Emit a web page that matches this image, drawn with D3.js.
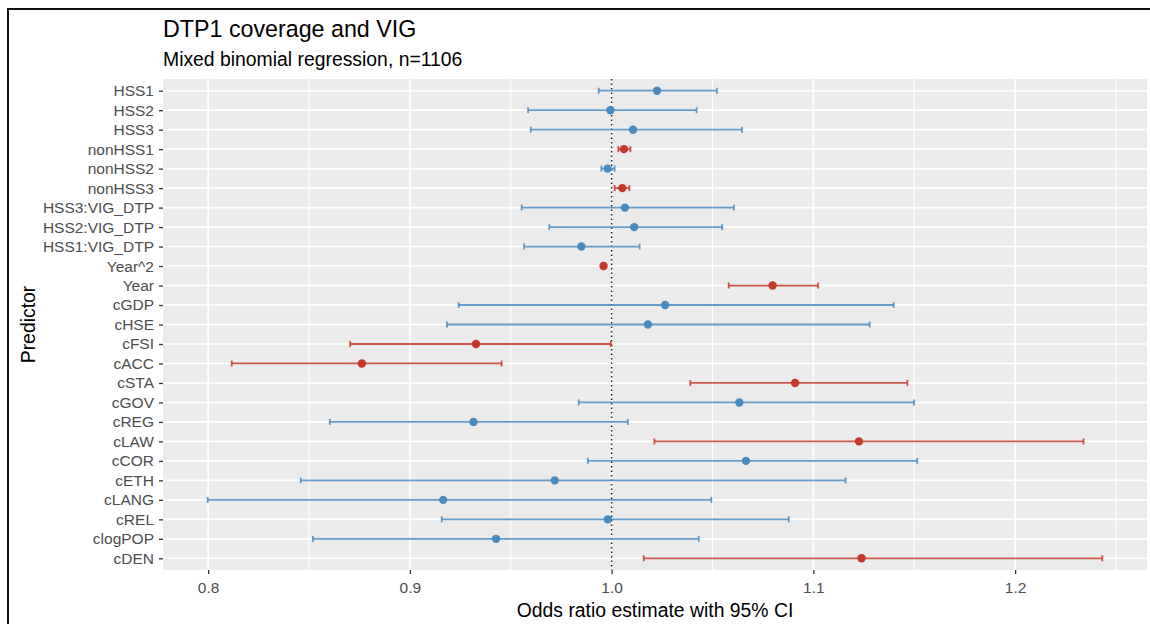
<!DOCTYPE html>
<html>
<head>
<meta charset="utf-8">
<script src="https://cdn.jsdelivr.net/npm/d3@7"></script>
<style>
  html, body { margin: 0; padding: 0; background: #ffffff; }
  svg { display: block; font-family: "Liberation Sans", Arial, sans-serif; }
</style>
</head>
<body>
<svg id="chart" width="1150" height="624"></svg>
<script>
// Predictors, top to bottom
const predictors = [
  "HSS1", "HSS2", "HSS3", "nonHSS1", "nonHSS2", "nonHSS3",
  "HSS3:VIG_DTP", "HSS2:VIG_DTP", "HSS1:VIG_DTP", "Year^2", "Year",
  "cGDP", "cHSE", "cFSI", "cACC", "cSTA", "cGOV", "cREG", "cLAW",
  "cCOR", "cETH", "cLANG", "cREL", "clogPOP", "cDEN"
];

// Odds ratio estimates
const estimate = [
  1.0225, 0.9994, 1.0106, 1.0061, 0.9980, 1.0053,
  1.0066, 1.0112, 0.9850, 0.9960, 1.0798,
  1.0265, 1.0180, 0.9328, 0.8762, 1.0909, 1.0633, 0.9315, 1.1226,
  1.0666, 0.9718, 0.9165, 0.9981, 0.9427, 1.1239
];

// Lower 95% confidence limits
const ciLow = [
  0.9936, 0.9586, 0.9599, 1.0033, 0.9949, 1.0015,
  0.9554, 0.9691, 0.9566, 0.9957, 1.0580,
  0.9242, 0.9184, 0.8704, 0.8117, 1.0390, 0.9837, 0.8603, 1.0212,
  0.9882, 0.8459, 0.7998, 0.9158, 0.8519, 1.0159
];

// Upper 95% confidence limits
const ciHigh = [
  1.0522, 1.0421, 1.0646, 1.0093, 1.0015, 1.0088,
  1.0606, 1.0548, 1.0139, 0.9963, 1.1023,
  1.1398, 1.1279, 0.9996, 0.9455, 1.1466, 1.1499, 1.0080, 1.2339,
  1.1515, 1.1160, 1.0494, 1.0878, 1.0432, 1.2432
];

// Significant at the 5% level (drawn in red)
const significant = [
  false, false, false, true, false, true,
  false, false, false, true, true,
  false, false, true, true, true, false, false, true,
  false, false, false, false, false, true
];

const xTickValues = [0.8, 0.9, 1.0, 1.1, 1.2];
const xTickLabels = ["0.8", "0.9", "1.0", "1.1", "1.2"];
const xMinorValues = [0.85, 0.95, 1.05, 1.15, 1.25];

const titleText = "DTP1 coverage and VIG";
const subtitleText = "Mixed binomial regression, n=1106";
const xTitle = "Odds ratio estimate with 95% CI";
const yTitle = "Predictor";

const rows = predictors.map((p, i) => ({
  name: p, est: estimate[i], lo: ciLow[i], hi: ciHigh[i], sig: significant[i]
}));

const colBlue = "#4a8bbf";
const colRed = "#c4392b";

const panel = { left: 163, right: 1147, top: 79, bottom: 570 };
const baseFont = 15.5;

const svg = d3.select("#chart");

// Outer frame
svg.append("path")
  .attr("d", "M8,624 V9 H1150")
  .attr("fill", "none")
  .attr("stroke", "#111")
  .attr("stroke-width", 2);

// x scale with 5% expansion on each side
const dMin = d3.min(ciLow), dMax = d3.max(ciHigh);
const pad = (dMax - dMin) * 0.05;
const x = d3.scaleLinear()
  .domain([dMin - pad, dMax + pad])
  .range([panel.left, panel.right]);

const y = d3.scalePoint()
  .domain(predictors)
  .range([panel.top, panel.bottom])
  .padding(0.6);

// Panel background
svg.append("rect")
  .attr("x", panel.left).attr("y", panel.top)
  .attr("width", panel.right - panel.left)
  .attr("height", panel.bottom - panel.top)
  .attr("fill", "#ebebeb");

// Grid lines
const grid = svg.append("g");
grid.selectAll("line.minor")
  .data(xMinorValues.filter(v => x(v) > panel.left && x(v) < panel.right))
  .join("line")
  .attr("class", "minor")
  .attr("x1", d => x(d)).attr("x2", d => x(d))
  .attr("y1", panel.top).attr("y2", panel.bottom)
  .attr("stroke", "#ffffff").attr("stroke-width", 1.1);
grid.selectAll("line.majorx")
  .data(xTickValues)
  .join("line")
  .attr("class", "majorx")
  .attr("x1", d => x(d)).attr("x2", d => x(d))
  .attr("y1", panel.top).attr("y2", panel.bottom)
  .attr("stroke", "#ffffff").attr("stroke-width", 1.6);
grid.selectAll("line.majory")
  .data(predictors)
  .join("line")
  .attr("class", "majory")
  .attr("x1", panel.left).attr("x2", panel.right)
  .attr("y1", d => y(d)).attr("y2", d => y(d))
  .attr("stroke", "#ffffff").attr("stroke-width", 1.6);

// Reference line at odds ratio 1
svg.append("line")
  .attr("x1", x(1)).attr("x2", x(1))
  .attr("y1", panel.top).attr("y2", panel.bottom)
  .attr("stroke", "#222")
  .attr("stroke-width", 1.5)
  .attr("stroke-dasharray", "1.5 3");

// Error bars
const capH = 3;
const bars = svg.append("g")
  .selectAll("g")
  .data(rows)
  .join("g")
  .attr("stroke", d => d.sig ? colRed : colBlue)
  .attr("stroke-opacity", 0.85)
  .attr("stroke-width", 1.8);
bars.append("line")
  .attr("x1", d => x(d.lo)).attr("x2", d => x(d.hi))
  .attr("y1", d => y(d.name)).attr("y2", d => y(d.name));
bars.append("line")
  .attr("x1", d => x(d.lo)).attr("x2", d => x(d.lo))
  .attr("y1", d => y(d.name) - capH).attr("y2", d => y(d.name) + capH);
bars.append("line")
  .attr("x1", d => x(d.hi)).attr("x2", d => x(d.hi))
  .attr("y1", d => y(d.name) - capH).attr("y2", d => y(d.name) + capH);

// Point estimates
svg.append("g")
  .selectAll("circle")
  .data(rows)
  .join("circle")
  .attr("cx", d => x(d.est))
  .attr("cy", d => y(d.name))
  .attr("r", 4.2)
  .attr("fill", d => d.sig ? colRed : colBlue);

// Axes
const xAxis = d3.axisBottom(x)
  .tickValues(xTickValues)
  .tickFormat((d, i) => xTickLabels[i])
  .tickSize(4)
  .tickPadding(8);
const gx = svg.append("g")
  .attr("transform", `translate(0,${panel.bottom})`)
  .call(xAxis);
gx.select(".domain").remove();
gx.selectAll(".tick line").attr("stroke", "#333").attr("stroke-width", 1.3);
gx.selectAll(".tick text")
  .attr("fill", "#4d4d4d")
  .attr("font-size", baseFont)
  .attr("font-family", "Liberation Sans, Arial, sans-serif");

const yAxis = d3.axisLeft(y)
  .tickSize(4)
  .tickPadding(5);
const gy = svg.append("g")
  .attr("transform", `translate(${panel.left},0)`)
  .call(yAxis);
gy.select(".domain").remove();
gy.selectAll(".tick line").attr("stroke", "#333").attr("stroke-width", 1.3);
gy.selectAll(".tick text")
  .attr("fill", "#4d4d4d")
  .attr("font-size", baseFont)
  .attr("font-family", "Liberation Sans, Arial, sans-serif");

// Titles
svg.append("text")
  .attr("x", panel.left).attr("y", 37)
  .attr("font-size", baseFont * 1.5)
  .attr("fill", "#000")
  .text(titleText);
svg.append("text")
  .attr("x", panel.left).attr("y", 66)
  .attr("font-size", baseFont * 1.25)
  .attr("fill", "#000")
  .text(subtitleText);

svg.append("text")
  .attr("x", (panel.left + panel.right) / 2)
  .attr("y", 617)
  .attr("text-anchor", "middle")
  .attr("font-size", baseFont * 1.25)
  .attr("fill", "#000")
  .text(xTitle);

svg.append("text")
  .attr("transform", `translate(35,${(panel.top + panel.bottom) / 2}) rotate(-90)`)
  .attr("text-anchor", "middle")
  .attr("font-size", baseFont * 1.25)
  .attr("fill", "#000")
  .text(yTitle);
</script>
</body>
</html>
